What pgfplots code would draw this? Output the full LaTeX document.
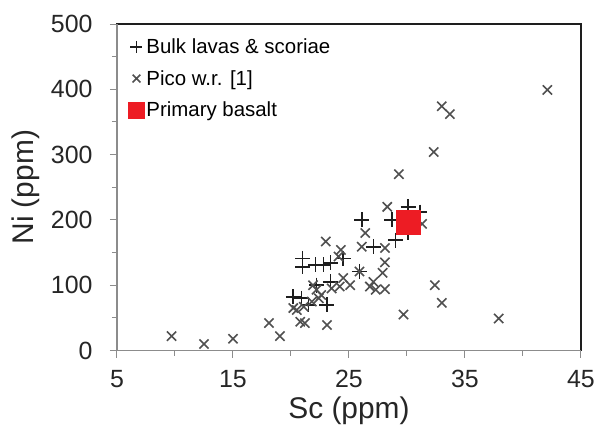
\documentclass[border=0pt]{standalone}
\usepackage{fontspec}
\setmainfont{Liberation Sans}
\usepackage{pgfplots}
\pgfplotsset{compat=1.18}
\definecolor{redsq}{RGB}{237,28,36}
\definecolor{xgray}{RGB}{80,80,80}
\definecolor{axgray}{RGB}{140,140,140}
\definecolor{pdark}{RGB}{30,30,30}
\begin{document}
\begin{tikzpicture}
\begin{axis}[
  at={(0,0)}, anchor=south west,
  width=464bp, height=326.5bp, scale only axis,
  xmin=5, xmax=45, ymin=0, ymax=500,
  xtick={5,15,...,45}, ytick={0,100,...,500},
  minor x tick num=1, minor y tick num=1,
  tick pos=left, tick align=outside,
  major tick length=7bp, minor tick length=5bp,
  every tick/.style={axgray, line width=1bp},
  axis line style={line width=1.2bp, pdark},
  tick label style={font=\fontsize{25}{28}\selectfont, text=black!85},
  xticklabel style={yshift=-9bp},
  yticklabel style={xshift=-14bp},
  /pgf/number format/assume math mode=true,
  xlabel={Sc (ppm)}, ylabel={Ni (ppm)},
  label style={font=\fontsize{30}{34}\selectfont, text=black!85},
  xlabel style={at={(axis description cs:0.5,-0.184)}, anchor=center},
  ylabel style={at={(axis description cs:-0.196,0.5)}, anchor=center},
  legend style={draw=none, fill=none, at={(axis description cs:0.02,0.968)}, anchor=north west,
    font=\fontsize{20.5}{23}\selectfont, row sep=11.5bp, inner sep=2bp},
  legend cell align=left,
  after end axis/.code={
    \draw[axgray, line width=1.2bp] (rel axis cs:0,1) -- (rel axis cs:0,0) -- (rel axis cs:1,0);
  },
]
\addplot[only marks, mark=+, mark size=7.5bp, draw=pdark, mark options={line width=1.7bp},
  legend image post style={mark size=6bp}] coordinates {
(20.2,82) (20.9,80) (21.0,141) (21.0,128) (21.5,70) (22.1,131) (22.8,131) (23.4,134)
(23.4,105) (23.1,70) (22.2,100) (24.5,141) (25.9,121) (26.1,200) (27.1,159) (28.7,200)
(29.0,169) (30.1,220) (30.1,180) (31.1,212)
};
\addlegendentry{Bulk lavas \& scoriae}
\addplot[only marks, mark=x, mark size=6.5bp, draw=xgray, mark options={line width=1.6bp},
  legend image post style={mark size=5.5bp}] coordinates {
(9.7,22) (12.5,10) (15.0,18) (18.1,42) (19.05,22) (20.2,65) (20.5,62) (20.8,44) (21.1,67)
(21.2,42) (21.8,75) (21.9,100) (22.2,93) (22.4,80) (23.1,39) (23.0,167) (24.1,144) (24.3,154)
(24.2,98) (24.5,111) (25.1,100) (26.1,159) (26.4,180) (25.9,121) (26.8,98) (27.1,105)
(27.3,93) (28.1,157) (28.1,135) (27.9,119) (28.1,94) (28.3,220) (29.3,270) (29.7,55)
(31.3,194) (32.3,304) (32.4,100) (33.0,73) (33.0,374) (33.7,362) (37.9,49) (42.1,399)
(22.6,85) (23.5,95)
};
\addlegendentry{Pico w.r. [1]}
\addplot[only marks, mark=square*, mark size=12bp, color=redsq,
  legend image post style={mark size=8bp}] coordinates {(30.1,197)};
\addlegendentry{Primary basalt}
\end{axis}
\pgfresetboundingbox
\path (-117bp,-80.5bp) rectangle (480bp,350.5bp);
\end{tikzpicture}
\end{document}
